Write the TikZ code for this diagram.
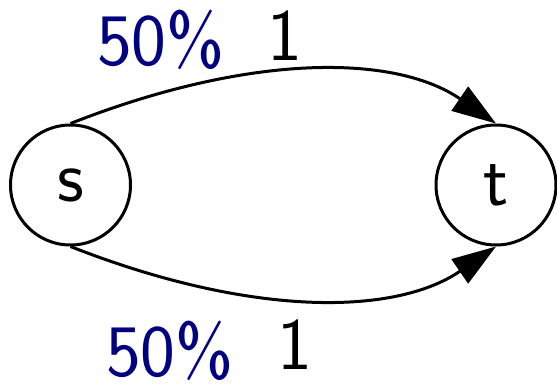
\documentclass[tikz,border=0pt]{standalone}
\usetikzlibrary{arrows.meta}
\definecolor{lblblue}{RGB}{0,0,128}
\begin{document}
\begin{tikzpicture}[x=1pt,y=-1pt,
  vertex/.style={draw,circle,line width=3pt,minimum size=120pt,inner sep=0pt,
    font=\sffamily\fontsize{74}{80}\selectfont},
  edgeline/.style={line width=3pt,-{Triangle[length=44pt,width=29pt]}},
  pct/.style={anchor=base,text=lblblue,inner sep=0pt,font=\sffamily\fontsize{74}{80}\selectfont},
  wgt/.style={anchor=base,inner sep=0pt,font=\sffamily\fontsize{74}{80}\selectfont}]
\useasboundingbox (0,0) rectangle (557,383);
\node[vertex] (s) at (70.5,185) {s};
\node[vertex] (t) at (496,185) {t};
\draw[edgeline] (s.north) .. controls +(178,-70) and +(-102,-70) .. (t.north);
\draw[edgeline] (s.south) .. controls +(178,70) and +(-102,70) .. (t.south);
\node[pct] (p1) at (161,65) {50\%};
\node[wgt] (w1) at (285,60) {1};
\node[pct] (p2) at (170,376) {50\%};
\node[wgt] (w2) at (294.5,369) {1};
\end{tikzpicture}
\end{document}
